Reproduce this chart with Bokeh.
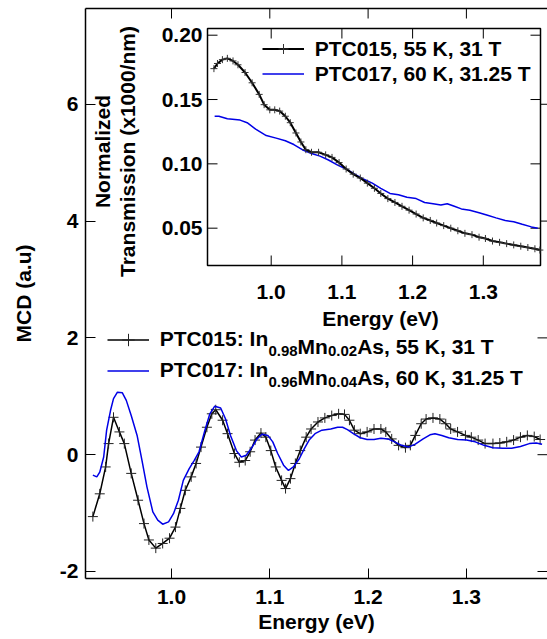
import math
from bokeh.plotting import figure
from bokeh.models import (Range1d, LinearAxis, FixedTicker, Label, Legend, LegendItem,
                          NumeralTickFormatter)
from bokeh.core.properties import value
from bokeh.embed import file_html
from bokeh.resources import INLINE

# ---------------- data ----------------
mcd_e_015 = [0.920, 0.927, 0.933, 0.936, 0.941, 0.947, 0.952, 0.959, 0.966, 0.972,
             0.977, 0.984, 0.991, 0.998, 1.004, 1.009, 1.014, 1.020, 1.025, 1.030,
             1.036, 1.041, 1.045, 1.052, 1.057, 1.064, 1.069, 1.075, 1.080, 1.085,
             1.091, 1.096, 1.101, 1.106, 1.112, 1.116, 1.121, 1.126, 1.131, 1.137,
             1.142, 1.149, 1.156, 1.163, 1.170, 1.176, 1.181, 1.186, 1.192, 1.199,
             1.206, 1.213, 1.218, 1.224, 1.231, 1.238, 1.243, 1.248, 1.254, 1.259,
             1.266, 1.273, 1.279, 1.284, 1.291, 1.299, 1.305, 1.312, 1.319, 1.327,
             1.334, 1.341, 1.348, 1.355, 1.362, 1.369, 1.375]
mcd_015 = [-1.06, -0.67, -0.21, 0.19, 0.64, 0.39, 0.19, -0.32, -0.78, -1.18,
           -1.46, -1.60, -1.52, -1.43, -1.24, -0.92, -0.61, -0.38, -0.15, 0.13,
           0.47, 0.70, 0.77, 0.59, 0.36, 0.02, -0.13, -0.10, 0.05, 0.25,
           0.37, 0.30, 0.07, -0.21, -0.44, -0.58, -0.41, -0.15, 0.07, 0.30,
           0.44, 0.56, 0.63, 0.67, 0.70, 0.69, 0.59, 0.42, 0.36, 0.39,
           0.44, 0.44, 0.39, 0.27, 0.16, 0.12, 0.16, 0.33, 0.53, 0.61,
           0.63, 0.61, 0.53, 0.44, 0.39, 0.33, 0.30, 0.25, 0.19, 0.19,
           0.20, 0.22, 0.25, 0.30, 0.33, 0.31, 0.26]

mcd_e_017 = [0.920, 0.924, 0.927, 0.931, 0.934, 0.938, 0.941, 0.945, 0.950, 0.954,
             0.959, 0.965, 0.970, 0.975, 0.981, 0.986, 0.991, 0.997, 1.002, 1.007,
             1.012, 1.018, 1.023, 1.028, 1.034, 1.039, 1.044, 1.050, 1.055, 1.060,
             1.066, 1.071, 1.076, 1.082, 1.087, 1.092, 1.098, 1.103, 1.108, 1.114,
             1.119, 1.124, 1.130, 1.135, 1.140, 1.146, 1.153, 1.162, 1.169, 1.174,
             1.179, 1.185, 1.192, 1.199, 1.206, 1.213, 1.220, 1.227, 1.234, 1.241,
             1.248, 1.256, 1.263, 1.268, 1.275, 1.282, 1.291, 1.300, 1.309, 1.318,
             1.327, 1.337, 1.346, 1.355, 1.364, 1.371, 1.377]
mcd_017 = [-0.35, -0.38, -0.30, -0.04, 0.42, 0.76, 0.96, 1.07, 1.06, 0.93,
           0.67, 0.33, -0.10, -0.55, -0.98, -1.12, -1.19, -1.15, -1.01, -0.78,
           -0.44, -0.24, -0.10, 0.05, 0.42, 0.70, 0.83, 0.80, 0.61, 0.33,
           0.07, -0.04, -0.01, 0.13, 0.27, 0.35, 0.33, 0.22, 0.02, -0.18,
           -0.27, -0.21, -0.07, 0.10, 0.25, 0.36, 0.42, 0.44, 0.47, 0.47,
           0.43, 0.36, 0.29, 0.26, 0.26, 0.28, 0.27, 0.22, 0.16, 0.13,
           0.18, 0.27, 0.34, 0.36, 0.33, 0.29, 0.26, 0.25, 0.22, 0.16,
           0.12, 0.11, 0.11, 0.14, 0.19, 0.20, 0.18]

tr_e_015 = [0.919, 0.924, 0.931, 0.938, 0.946, 0.953, 0.963, 0.973, 0.983, 0.990,
            0.998, 1.005, 1.012, 1.020, 1.027, 1.035, 1.042, 1.049, 1.057, 1.067,
            1.077, 1.086, 1.096, 1.106, 1.116, 1.126, 1.136, 1.146, 1.155, 1.165,
            1.175, 1.185, 1.195, 1.205, 1.215, 1.225, 1.234, 1.244, 1.254, 1.264,
            1.274, 1.284, 1.294, 1.303, 1.313, 1.323, 1.333, 1.343, 1.353, 1.363,
            1.373, 1.380]
tr_015 = [0.174, 0.178, 0.181, 0.182, 0.180, 0.177, 0.171, 0.163, 0.154, 0.146,
          0.142, 0.142, 0.141, 0.137, 0.132, 0.124, 0.117, 0.111, 0.109, 0.109,
          0.107, 0.105, 0.101, 0.096, 0.092, 0.089, 0.085, 0.081, 0.077, 0.073,
          0.070, 0.067, 0.064, 0.061, 0.058, 0.056, 0.054, 0.052, 0.050, 0.048,
          0.046, 0.045, 0.043, 0.042, 0.040, 0.039, 0.038, 0.037, 0.036, 0.035,
          0.034, 0.033]

tr_e_017 = [0.920, 0.926, 0.938, 0.956, 0.966, 0.978, 0.993, 1.007, 1.020, 1.032,
            1.044, 1.057, 1.069, 1.081, 1.094, 1.106, 1.118, 1.131, 1.143, 1.155,
            1.168, 1.180, 1.192, 1.205, 1.217, 1.229, 1.240, 1.249, 1.259, 1.269,
            1.281, 1.294, 1.306, 1.318, 1.331, 1.343, 1.355, 1.368, 1.377]
tr_017 = [0.137, 0.137, 0.135, 0.134, 0.132, 0.127, 0.122, 0.120, 0.118, 0.115,
          0.111, 0.108, 0.106, 0.103, 0.099, 0.096, 0.092, 0.088, 0.085, 0.081,
          0.077, 0.076, 0.074, 0.073, 0.070, 0.069, 0.068, 0.069, 0.067, 0.065,
          0.064, 0.062, 0.060, 0.058, 0.056, 0.055, 0.053, 0.051, 0.050]

x_ticks = [1.0, 1.1, 1.2, 1.3]
x_tick_labels = ["1.0", "1.1", "1.2", "1.3"]
main_y_ticks = [-2, 0, 2, 4, 6]
main_y_tick_labels = ["-2", "0", "2", "4", "6"]
inset_y_ticks = [0.05, 0.10, 0.15, 0.20]
inset_y_tick_labels = ["0.05", "0.10", "0.15", "0.20"]

main_legend_pieces = [["PTC015: In", "0.98", "Mn", "0.02", "As, 55 K, 31 T"],
                      ["PTC017: In", "0.96", "Mn", "0.04", "As, 60 K, 31.25 T"]]
inset_legend_labels = ["PTC015, 55 K, 31 T", "PTC017, 60 K, 31.25 T"]
x_title = "Energy (eV)"
main_y_title = "MCD (a.u)"
inset_y_title = ["Normalized", "Transmission (x1000/nm)"]

# ---------------- styling / layout constants ----------------
BLACK = "#000000"
BLUE = "#0000e6"
FONT = "Liberation Sans"
FSN = 21
FS = f"{FSN}px"
SUBN = 15
TICK = 10

# main frame (window px) and inset frame (window px)
FL, FR, FT, FB = 85, 547, 8, 578
IL, IR, IT, IB = 207, 540, 28, 265
main_x = (0.9125, 1.3825)
main_y = (-2.12, 7.64)
inset_x = (0.9099, 1.3809)
inset_y = (0.021, 0.2052)

mxpx = (FR - FL) / (main_x[1] - main_x[0])
mypx = (FB - FT) / (main_y[1] - main_y[0])
xpx = (IR - IL) / (inset_x[1] - inset_x[0])
ypx = (IB - IT) / (inset_y[1] - inset_y[0])


def ix(px):
    return inset_x[0] + (px - IL) / xpx


def iy(py):
    return inset_y[0] + (IB - py) / ypx


AW = {'P': 667, 'T': 611, 'C': 722, ':': 333, ' ': 278, 'I': 278, 'n': 611, '.': 278,
      'M': 833, 'A': 722, 's': 556, ',': 278, 'K': 722}


def text_width(s, size):
    return sum(AW.get(c, 556) for c in s) * size / 1000.0


def style_axis(ax, ticks, labels, fmt, standoff=6):
    ax.ticker = FixedTicker(ticks=ticks, minor_ticks=[])
    ax.formatter = NumeralTickFormatter(format=fmt)
    ax.major_label_overrides = {t: l for t, l in zip(ticks, labels)}
    ax.minor_tick_line_color = None
    ax.major_tick_in = TICK
    ax.major_tick_out = 0
    ax.major_tick_line_width = 1
    ax.major_tick_line_color = "black"
    ax.axis_line_width = 1.5
    ax.axis_line_color = "black"
    ax.major_label_text_font = FONT
    ax.major_label_text_font_style = "bold"
    ax.major_label_text_color = "black"
    ax.major_label_text_font_size = FS
    ax.major_label_standoff = standoff
    ax.axis_label_text_font = FONT
    ax.axis_label_text_font_style = "bold"
    ax.axis_label_text_font_size = FS
    ax.axis_label_text_color = "black"


p = figure(width=547, height=639, output_backend="svg", toolbar_location=None,
           x_range=Range1d(*main_x), y_range=Range1d(*main_y),
           min_border_left=FL, min_border_right=0, min_border_top=FT,
           min_border_bottom=639 - FB)
p.xgrid.visible = False
p.ygrid.visible = False
p.outline_line_color = None
p.border_fill_color = "white"
p.background_fill_color = "white"

p.extra_x_ranges = {"ix": Range1d(ix(FL), ix(FR))}
p.extra_y_ranges = {"iy": Range1d(iy(FB), iy(FT))}

# ---- main axes ----
style_axis(p.xaxis[0], x_ticks, x_tick_labels, "0.0", standoff=11)
p.xaxis[0].axis_label = x_title
p.xaxis[0].axis_label_standoff = 3
style_axis(p.yaxis[0], main_y_ticks, main_y_tick_labels, "0", standoff=7)
p.yaxis[0].axis_label = main_y_title
p.yaxis[0].axis_label_standoff = 22

# top frame line: an axis without ticks; mirrored ticks drawn as segments
top_ax = LinearAxis(ticker=FixedTicker(ticks=[], minor_ticks=[]),
                    axis_line_width=1.5, axis_line_color="black",
                    major_tick_line_color=None, minor_tick_line_color=None)
p.add_layout(top_ax, "above")
p.segment(x0=x_ticks, y0=[main_y[1]] * len(x_ticks), x1=x_ticks,
          y1=[main_y[1] - TICK / mypx] * len(x_ticks), line_color="black", line_width=1)
p.segment(x0=[main_x[1]] * len(main_y_ticks), y0=main_y_ticks,
          x1=[main_x[1] - TICK / mxpx] * len(main_y_ticks), y1=main_y_ticks,
          line_color="black", line_width=1)

# ---- main data ----
m_bl_line = p.line(mcd_e_015, mcd_015, line_color=BLACK, line_width=1.5)
m_bl_pts = p.scatter(mcd_e_015, mcd_015, marker="cross", size=10,
                     line_color="#222222", line_width=1)
m_blue = p.line(mcd_e_017, mcd_017, line_color=BLUE, line_width=1.5)

main_leg = Legend(items=[LegendItem(label=main_legend_pieces[0][0], renderers=[m_bl_line, m_bl_pts]),
                         LegendItem(label=main_legend_pieces[1][0], renderers=[m_blue])],
                  location=(106.7 - FL, FB - 385.5), glyph_width=42, glyph_height=31,
                  label_height=31, spacing=0, padding=0, margin=0, label_standoff=11,
                  label_text_font=FONT, label_text_font_style="bold",
                  label_text_font_size=FS, label_text_color="black",
                  border_line_color=None, background_fill_alpha=0)
p.add_layout(main_leg)

row_baselines = [FB - 345.7, FB - 376.7]
for pieces, ybase in zip(main_legend_pieces, row_baselines):
    xpos = 159.4 - FL + text_width(pieces[0], FSN)
    for k, piece in enumerate(pieces[1:], start=1):
        sub = k in (1, 3)
        size = SUBN if sub else FSN
        p.add_layout(Label(x=xpos, y=ybase - 5 if sub else ybase,
                           x_units="screen", y_units="screen", text=piece,
                           text_font=FONT, text_font_style="bold",
                           text_font_size=f"{size}px", text_color="black",
                           text_align="left", text_baseline="alphabetic"))
        xpos += text_width(piece, size)

# ---------------- inset (drawn on extra ranges) ----------------
R = dict(x_range_name="ix", y_range_name="iy")
p.quad(left=[inset_x[0]], right=[inset_x[1]], bottom=[inset_y[0]], top=[inset_y[1]],
       fill_color="white", line_color="black", line_width=1.5, **R)

p.segment(x0=x_ticks, y0=[inset_y[0]] * len(x_ticks), x1=x_ticks,
          y1=[iy(IB - TICK)] * len(x_ticks), line_color="black", line_width=1, **R)
p.segment(x0=x_ticks, y0=[inset_y[1]] * len(x_ticks), x1=x_ticks,
          y1=[iy(IT + TICK)] * len(x_ticks), line_color="black", line_width=1, **R)
p.segment(x0=[inset_x[0]] * len(inset_y_ticks), y0=inset_y_ticks,
          x1=[ix(IL + TICK)] * len(inset_y_ticks), y1=inset_y_ticks,
          line_color="black", line_width=1, **R)
p.segment(x0=[inset_x[1]] * len(inset_y_ticks), y0=inset_y_ticks,
          x1=[ix(IR - TICK)] * len(inset_y_ticks), y1=inset_y_ticks,
          line_color="black", line_width=1, **R)

txt_style = dict(text_font=value(FONT), text_font_style="bold",
                 text_font_size=value(FS), text_color="black")
p.text(x=x_ticks, y=[iy(291.5)] * len(x_ticks), text=x_tick_labels,
       text_align="center", text_baseline="alphabetic", **txt_style, **R)
p.text(x=[ix(202)] * len(inset_y_ticks), y=inset_y_ticks, text=inset_y_tick_labels,
       text_align="right", text_baseline="middle", **txt_style, **R)
p.text(x=[ix(380)], y=[iy(318)], text=[x_title], text_align="center",
       text_baseline="alphabetic", **txt_style, **R)
p.text(x=[ix(101.5), ix(127.0)], y=[iy(151)] * 2, text=inset_y_title,
       angle=math.pi / 2, text_align="center", text_baseline="middle",
       **txt_style, **R)

i_blue = p.line(tr_e_017, tr_017, line_color=BLUE, line_width=1.5, **R)
i_bl_line = p.line(tr_e_015, tr_015, line_color=BLACK, line_width=2, **R)
i_bl_pts = p.scatter(tr_e_015, tr_015, marker="cross", size=7,
                     line_color="#333333", line_width=1, **R)

inset_leg = Legend(items=[LegendItem(label=inset_legend_labels[0], renderers=[i_bl_line, i_bl_pts]),
                          LegendItem(label=inset_legend_labels[1], renderers=[i_blue])],
                   location=(261.7 - FL, FB - 86.2), glyph_width=42, glyph_height=25,
                   label_height=25, spacing=0, padding=0, margin=0, label_standoff=11,
                   label_text_font=FONT, label_text_font_style="bold",
                   label_text_font_size=FS, label_text_color="black",
                   border_line_color=None, background_fill_alpha=0)
p.add_layout(inset_leg)

open("out.html", "w").write(file_html(p, INLINE))
